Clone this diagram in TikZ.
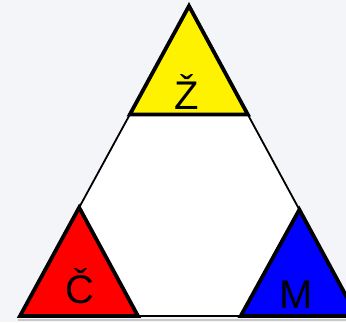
\documentclass[tikz,border=0pt]{standalone}
\usepackage{fontspec}
\setmainfont{Liberation Sans}
\usetikzlibrary{calc}
\definecolor{bgpaper}{RGB}{244,245,249}
\definecolor{shadowline}{RGB}{200,200,204}

\tikzset{
  corner/.style={draw=black, line width=3.8pt, line join=miter},
  letter/.style={anchor=base, inner sep=0pt, font=\fontsize{40}{40}\selectfont},
}

\begin{document}
\begin{tikzpicture}[x=1pt,y=-1pt]
\fill[bgpaper] (0,0) rectangle (346,322);
\useasboundingbox (0,0) rectangle (346,322);
\coordinate (top) at (189,6);
\coordinate (bl) at (20,316);
\coordinate (br) at (357,316);
% shadow under the base
\draw[shadowline, line width=1.5pt] (18,320) -- (346,320);
% white middle
\draw[fill=white, line width=1.8pt, line join=miter] (top) -- (bl) -- (br) -- cycle;
% corner triangles
\draw[corner, fill=yellow] (top) -- ($(top)!0.35!(bl)$) -- ($(top)!0.35!(br)$) -- cycle;
\draw[corner, fill=red] (bl) -- ($(bl)!0.35!(top)$) -- ($(bl)!0.35!(br)$) -- cycle;
\draw[corner, fill=blue] (br) -- ($(br)!0.343!(top)$) -- ($(br)!0.345!(bl)$) -- cycle;
\node[letter] (zlab) at (187,109) {Ž};
\node[letter] (clab) at (80,303) {Č};
\node[letter] (mlab) at (296,308) {M};
\end{tikzpicture}
\end{document}
